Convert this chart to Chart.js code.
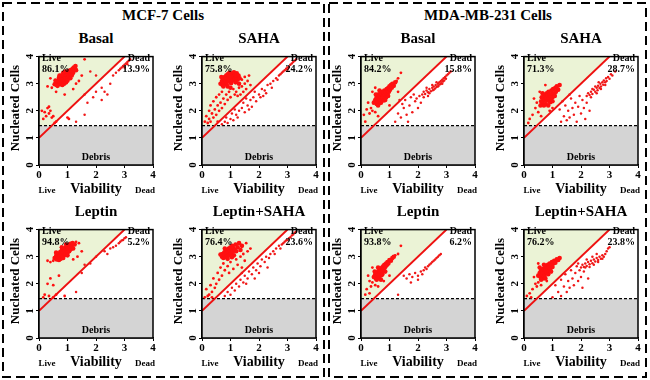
<!DOCTYPE html>
<html><head><meta charset="utf-8">
<script src="https://cdn.jsdelivr.net/npm/chart.js@4.4.0/dist/chart.umd.min.js"></script>
<style>
html,body{margin:0;padding:0;background:#fff;}
#wrap{position:relative;width:650px;height:380px;overflow:hidden;font-family:"Liberation Serif","Times New Roman",serif;font-weight:bold;color:#000;}
.t{position:absolute;white-space:nowrap;line-height:1;}
canvas{position:absolute;}
svg{position:absolute;left:0;top:0;}
</style></head>
<body><div id="wrap">
<svg width="650" height="380"><rect x="3" y="3" width="321" height="374" fill="none" stroke="#000" stroke-width="2" stroke-dasharray="9,5"/><rect x="329" y="3" width="317" height="374" fill="none" stroke="#000" stroke-width="2" stroke-dasharray="9,5"/></svg>
</div>
<script>
// ---- data ----
const groupTitles = ['MCF-7 Cells', 'MDA-MB-231 Cells'];
const panelTitles = ['Basal','SAHA','Basal','SAHA','Leptin','Leptin+SAHA','Leptin','Leptin+SAHA'];
const livePct = ['86.1%','75.8%','84.2%','71.3%','94.8%','76.4%','93.8%','76.2%'];
const deadPct = ['13.9%','24.2%','15.8%','28.7%','5.2%','23.6%','6.2%','23.8%'];
const axisTicks = [0,1,2,3,4];
const gateLine = [[0,1],[3,4]];
const debrisCut = 1.45;

// dense live-cell clusters
const mcfBasalCore = [[0.55,2.98],[0.6,3.05],[0.62,2.95],[0.65,3.1],[0.68,3.0],[0.7,3.15],[0.72,3.05],[0.74,2.98],[0.75,3.2],[0.78,3.1],[0.8,3.25],[0.8,3.02],[0.82,3.15],[0.85,3.3],[0.86,3.08],[0.88,3.2],[0.9,3.35],[0.9,3.12],[0.92,3.25],[0.95,3.4],[0.95,3.18],[0.98,3.3],[1.0,3.22],[1.0,3.42],[1.02,3.35],[1.05,3.28],[1.05,3.48],[1.08,3.4],[1.1,3.32],[1.12,3.5],[1.15,3.45],[1.18,3.55],[1.2,3.4],[1.22,3.6],[1.25,3.52],[0.7,3.22],[0.85,3.4],[0.95,3.05],[1.1,3.2],[0.65,2.92],[0.78,3.3],[1.0,3.12],[0.88,3.0],[1.15,3.3],[0.58,3.12],[0.72,3.3],[0.92,3.45],[1.28,3.65],[1.3,3.5],[0.82,2.95]];
const mcfBasalLive = [[0.3,2.9],[0.45,2.85],[0.6,2.7],[0.4,3.2],[1.3,3.0],[1.5,3.3],[1.4,3.1],[1.6,3.9],[1.2,2.8],[0.9,2.6],[0.15,1.7],[0.2,1.95],[0.3,2.1],[0.35,1.9],[0.25,1.8],[0.4,2.0],[0.1,2.0],[0.45,1.75],[0.5,1.8],[0.35,2.15],[0.55,1.55],[1.0,1.75],[1.05,1.7],[0.6,1.6]];
const mcfBasalDead = [[1.8,3.45],[2.0,3.3],[1.6,2.6],[1.7,2.3],[1.9,2.5],[2.0,2.7],[2.2,2.4],[2.3,2.7],[2.4,2.6],[2.5,3.0],[2.2,2.85],[1.3,1.6],[1.6,1.85],[2.6,3.3],[2.7,3.4],[2.8,3.5],[2.9,3.6],[2.95,3.65],[3.0,3.7],[3.05,3.75],[3.1,3.8],[3.15,3.85],[3.2,3.9],[2.85,3.55],[3.0,3.6],[3.1,3.72]];

const mcfSahaCore = [[0.65,3.0],[0.7,3.1],[0.72,2.95],[0.75,3.2],[0.78,3.05],[0.8,3.25],[0.82,3.12],[0.85,3.3],[0.86,2.98],[0.88,3.18],[0.9,3.35],[0.92,3.08],[0.95,3.25],[0.96,3.4],[0.98,3.15],[1.0,3.3],[1.02,3.02],[1.04,3.22],[1.06,3.38],[1.08,3.12],[1.1,3.28],[1.12,3.42],[1.14,3.18],[1.16,3.32],[1.18,3.05],[1.2,3.25],[1.22,3.38],[1.25,3.15],[1.28,3.3],[1.3,3.0],[0.9,2.9],[1.0,2.85],[0.75,2.9],[1.32,3.2],[0.68,3.25]];
const mcfSahaLive = [[1.1,2.8],[1.2,2.7],[1.3,2.85],[1.4,2.9],[1.45,2.7],[1.5,3.0],[1.55,2.8],[1.6,3.1],[1.35,2.6],[1.25,2.55],[1.15,2.6],[1.4,3.15],[1.5,3.25],[1.7,2.95],[1.65,3.3],
[0.2,1.55],[0.25,1.7],[0.3,1.6],[0.15,1.8],[0.35,1.9],[0.4,1.75],[0.45,2.05],[0.5,1.85],[0.55,2.2],[0.6,2.0],[0.65,2.3],[0.7,2.1],[0.75,2.45],[0.8,2.25],[0.85,2.6],[0.9,2.4],[0.5,2.5],[0.3,2.2],[0.4,2.35],[0.6,2.6],[0.95,2.7],[1.0,2.5],[0.55,1.6],[0.1,1.6],[0.7,2.7],[0.25,2.0]];
const mcfSahaDead = [[0.7,1.5],[0.8,1.6],[0.9,1.55],[0.85,1.75],[1.0,1.7],[1.1,1.65],[1.05,1.9],[1.2,1.85],[1.3,2.0],[1.25,1.75],[1.4,2.1],[1.5,1.95],[1.45,2.3],[1.6,2.2],[1.7,2.4],[1.65,2.05],[1.8,2.5],[1.9,2.35],[1.85,2.7],[2.0,2.6],[2.1,2.8],[2.05,2.5],[2.2,2.75],[2.3,2.95],[2.25,2.65],[2.4,3.0],[2.5,3.1],[2.45,2.85],[2.6,3.2],[2.7,3.3],[2.65,3.15],[2.8,3.4],[2.85,3.45],[2.9,3.5],[2.95,3.55],[3.0,3.6],[3.05,3.62],[3.1,3.7],[3.15,3.75],[3.2,3.8],[3.25,3.85],[3.3,3.9],[2.75,3.35],[3.0,3.52],[1.55,2.45],[1.15,2.05],[2.15,2.55],[1.75,2.15]];

const mdaBasalCore = [[0.5,2.4],[0.55,2.5],[0.58,2.35],[0.6,2.6],[0.62,2.45],[0.65,2.55],[0.66,2.3],[0.68,2.65],[0.7,2.5],[0.72,2.4],[0.74,2.6],[0.75,2.7],[0.76,2.48],[0.78,2.55],[0.8,2.65],[0.8,2.38],[0.82,2.75],[0.84,2.58],[0.86,2.68],[0.88,2.5],[0.9,2.8],[0.92,2.62],[0.94,2.72],[0.96,2.85],[0.98,2.7],[1.0,2.9],[1.02,2.78],[1.05,2.95],[1.08,2.85],[1.1,3.0],[1.15,2.92],[1.2,3.05],[0.55,2.25],[0.6,2.2],[0.7,2.3],[0.85,2.4],[0.45,2.3],[0.52,2.6],[0.65,2.75],[0.95,2.55]];
const mdaBasalLive = [[1.25,3.1],[1.3,3.2],[0.1,1.85],[0.15,1.6],[0.3,1.9],[0.35,2.1],[0.25,2.3],[0.4,2.0],[0.5,1.95],[0.6,1.8],[0.4,2.7],[0.5,2.85],[1.4,3.4],[1.3,2.7],[1.0,2.2],[0.2,2.05]];
const mdaBasalDead = [[1.2,1.6],[1.3,1.9],[1.4,1.75],[1.5,2.1],[1.6,1.85],[1.7,2.2],[1.8,1.95],[1.9,2.35],[2.0,2.1],[1.55,2.4],[1.75,2.5],[1.45,2.25],[1.85,2.6],[1.95,2.45],[2.05,2.55],[1.65,1.6],[2.1,2.3],[1.35,2.4],
[2.15,2.6],[2.2,2.7],[2.25,2.62],[2.3,2.75],[2.35,2.68],[2.4,2.8],[2.45,2.72],[2.5,2.85],[2.52,2.76],[2.55,2.9],[2.6,2.82],[2.62,2.95],[2.65,2.88],[2.7,3.0],[2.72,2.92],[2.75,3.05],[2.78,2.98],[2.8,3.1],[2.82,3.02],[2.85,3.15],[2.88,3.08],[2.9,3.2],[2.92,3.12],[2.95,3.25],[2.98,3.18],[3.0,3.3],[3.05,3.35],[3.1,3.4],[2.4,2.65],[2.55,2.78],[2.7,2.9],[2.85,3.0],[2.3,2.85],[2.5,2.95],[2.65,3.05],[2.35,2.55],[2.2,2.5],[3.15,3.45]];

const mdaSahaCore = [[0.6,2.35],[0.62,2.5],[0.65,2.3],[0.68,2.45],[0.7,2.6],[0.72,2.4],[0.75,2.55],[0.76,2.25],[0.78,2.48],[0.8,2.65],[0.82,2.38],[0.84,2.55],[0.86,2.7],[0.88,2.45],[0.9,2.6],[0.92,2.32],[0.94,2.52],[0.96,2.75],[0.98,2.62],[1.0,2.5],[1.02,2.8],[1.05,2.65],[1.08,2.55],[1.1,2.85],[1.12,2.7],[1.15,2.9],[1.2,2.78],[0.7,2.2],[0.85,2.2],[0.95,2.4],[0.65,2.65],[1.0,2.35],[0.58,2.2],[1.25,2.95]];
const mdaSahaLive = [[0.2,1.7],[0.3,1.85],[0.4,2.1],[0.5,1.95],[0.6,1.8],[0.45,2.3],[0.35,2.45],[0.55,2.7],[0.75,2.95],[0.9,2.0],[1.0,2.1],[0.15,1.55]];
const mdaSahaDead = [[1.3,1.6],[1.4,1.8],[1.5,1.65],[1.55,2.0],[1.6,1.75],[1.7,2.1],[1.75,1.85],[1.8,2.3],[1.85,1.6],[1.9,2.15],[2.0,1.9],[2.05,2.4],[2.1,2.1],[2.15,1.7],[2.2,2.3],[1.45,2.2],[1.65,2.45],[1.95,2.55],[1.35,2.35],[1.6,2.6],[2.3,2.0],[1.25,2.05],
[2.2,2.55],[2.25,2.65],[2.3,2.58],[2.35,2.7],[2.4,2.62],[2.45,2.78],[2.5,2.7],[2.55,2.85],[2.58,2.76],[2.6,2.92],[2.65,2.84],[2.68,3.0],[2.7,2.9],[2.75,3.05],[2.78,2.96],[2.8,3.12],[2.85,3.05],[2.88,3.2],[2.9,3.1],[2.95,3.25],[3.0,3.18],[3.05,3.35],[3.1,3.3],[3.2,3.45],[2.4,2.8],[2.55,2.65],[2.7,2.8],[2.85,2.95],[2.5,2.9],[2.62,3.05],[2.35,2.5]];

const mcfLeptinCore = [[0.55,2.95],[0.6,3.02],[0.62,2.9],[0.65,3.08],[0.68,2.97],[0.7,3.12],[0.72,3.02],[0.75,3.18],[0.76,2.92],[0.78,3.08],[0.8,3.22],[0.82,3.0],[0.84,3.15],[0.86,3.28],[0.88,3.05],[0.9,3.2],[0.92,3.32],[0.94,3.1],[0.96,3.25],[0.98,3.38],[1.0,3.15],[1.02,3.3],[1.04,3.42],[1.06,3.2],[1.08,3.35],[1.1,3.48],[1.12,3.28],[1.15,3.4],[1.18,3.5],[1.2,3.3],[0.7,2.88],[0.85,2.95],[1.0,3.05],[0.6,3.15],[0.8,3.35],[0.95,3.45],[1.25,3.45]];
const mcfLeptinLive = [[0.3,2.85],[0.4,2.8],[0.5,2.85],[1.3,3.55],[1.4,3.5],[1.5,3.2],[1.35,3.0],[1.2,2.9],[0.4,2.2],[0.3,2.0],[0.5,1.95],[0.2,1.6],[0.35,1.55],[0.6,1.6],[0.15,1.5],[0.5,1.5],[0.9,1.55],[0.7,2.3]];
const mcfLeptinDead = [[1.3,1.7],[1.5,2.4],[1.6,2.7],[2.0,3.0],[2.3,3.2],[2.5,3.3],[2.6,3.35],[2.7,3.4],[2.8,3.5],[2.85,3.55],[2.9,3.6],[2.95,3.62],[3.0,3.68],[3.05,3.72],[2.4,3.1],[1.8,2.75]];

const mcfComboCore = [[0.7,3.0],[0.72,3.1],[0.75,2.95],[0.78,3.15],[0.8,3.05],[0.82,3.2],[0.85,2.98],[0.86,3.12],[0.88,3.25],[0.9,3.02],[0.92,3.18],[0.94,3.3],[0.96,3.08],[0.98,3.22],[1.0,3.35],[1.02,3.12],[1.04,3.28],[1.06,3.4],[1.08,3.18],[1.1,3.32],[1.12,3.05],[1.15,3.25],[1.18,3.45],[1.2,3.2],[1.25,3.35],[1.3,3.5],[0.65,3.08],[0.9,2.92],[1.05,2.98],[1.35,3.25],[1.4,3.4],[0.8,3.3]];
const mcfComboLive = [[1.2,2.9],[1.35,3.0],[1.45,3.1],[1.5,2.85],[1.6,3.2],[1.25,2.7],[1.4,2.6],[1.1,2.55],[0.95,2.4],[0.9,2.65],[0.8,2.5],[0.7,2.3],[0.6,2.15],[0.5,2.0],[0.45,1.85],[0.35,1.7],[0.3,1.95],[0.2,1.55],[0.1,1.5],[0.55,2.4],[0.4,2.2],[0.65,2.6],[0.15,1.8],[0.75,2.75],[0.25,1.6],[1.0,2.8],[1.55,3.5],[1.7,3.3],[0.35,1.5]];
const mcfComboDead = [[0.8,1.55],[0.9,1.7],[1.0,1.6],[1.05,1.85],[1.15,1.75],[1.2,2.0],[1.3,1.9],[1.35,2.15],[1.45,2.05],[1.5,2.3],[1.6,2.2],[1.65,2.45],[1.75,2.35],[1.8,2.6],[1.9,2.5],[1.95,2.75],[2.05,2.65],[2.1,2.9],[2.2,2.8],[2.25,3.0],[2.35,2.95],[2.4,3.1],[2.5,3.2],[2.55,3.1],[2.6,3.3],[2.7,3.4],[2.75,3.3],[2.8,3.45],[2.85,3.5],[2.9,3.55],[2.95,3.6],[3.0,3.62],[3.05,3.68],[3.1,3.72],[3.15,3.78],[3.2,3.82],[3.25,3.88],[3.3,3.92],[1.55,2.0],[2.0,2.4],[2.3,2.6],[1.4,2.4],[1.85,2.2]];

const mdaLeptinCore = [[0.45,2.25],[0.5,2.35],[0.52,2.2],[0.55,2.4],[0.58,2.3],[0.6,2.45],[0.62,2.25],[0.64,2.5],[0.66,2.38],[0.68,2.55],[0.7,2.42],[0.72,2.32],[0.74,2.6],[0.76,2.48],[0.78,2.65],[0.8,2.55],[0.82,2.7],[0.85,2.62],[0.88,2.75],[0.9,2.68],[0.93,2.8],[0.96,2.75],[1.0,2.88],[1.05,2.85],[1.1,2.95],[1.15,3.0],[0.55,2.15],[0.65,2.2],[0.75,2.35],[0.48,2.45],[0.6,2.6],[0.7,2.15],[0.85,2.45]];
const mdaLeptinLive = [[1.2,3.05],[1.3,3.1],[0.2,1.8],[0.3,2.1],[0.35,1.9],[0.4,2.05],[0.5,1.95],[0.6,1.9],[0.25,2.3],[0.15,1.6],[0.8,2.1],[1.0,2.3],[0.4,2.6],[1.4,3.4],[0.3,1.65]];
const mdaLeptinDead = [[1.3,1.6],[1.5,2.3],[1.6,2.2],[1.7,2.35],[1.8,2.25],[1.9,2.4],[2.0,2.3],[2.1,2.45],[2.2,2.5],[2.25,2.6],[2.3,2.55],[2.35,2.65],[2.4,2.7],[2.45,2.75],[2.5,2.8],[2.55,2.85],[2.6,2.9],[2.65,2.95],[2.7,3.0],[2.75,3.05],[2.8,3.1],[1.75,2.05],[2.0,2.15],[2.15,2.35]];

const mdaComboCore = [[0.5,2.3],[0.55,2.4],[0.58,2.25],[0.6,2.5],[0.62,2.35],[0.65,2.45],[0.66,2.2],[0.68,2.55],[0.7,2.4],[0.72,2.3],[0.74,2.6],[0.76,2.5],[0.78,2.65],[0.8,2.42],[0.82,2.55],[0.84,2.7],[0.86,2.48],[0.88,2.6],[0.9,2.75],[0.92,2.55],[0.95,2.68],[0.98,2.8],[1.0,2.62],[1.03,2.75],[1.06,2.85],[1.1,2.78],[1.15,2.9],[1.2,2.88],[0.6,2.15],[0.75,2.2],[0.85,2.35],[0.55,2.6],[0.7,2.7],[0.95,2.45],[1.25,2.95]];
const mdaComboLive = [[0.1,1.55],[0.2,1.65],[0.3,1.8],[0.4,2.0],[0.5,2.05],[0.45,1.9],[0.6,1.95],[0.8,2.1],[0.35,2.25],[0.5,2.75],[0.25,1.5]];
const mdaComboDead = [[1.0,1.5],[1.2,1.7],[1.3,1.55],[1.4,1.9],[1.5,1.7],[1.55,2.1],[1.6,1.85],[1.7,2.2],[1.75,1.95],[1.8,2.4],[1.9,2.1],[1.95,2.5],[2.0,2.25],[2.05,1.85],[2.1,2.45],[2.15,2.6],[1.45,2.35],[1.65,2.5],[1.85,2.65],[1.3,2.15],[2.25,2.2],[1.1,1.95],
[2.0,2.6],[2.05,2.7],[2.1,2.62],[2.15,2.75],[2.2,2.66],[2.25,2.8],[2.3,2.72],[2.35,2.85],[2.4,2.76],[2.45,2.9],[2.5,2.82],[2.55,2.95],[2.6,2.88],[2.65,3.0],[2.7,2.92],[2.75,3.05],[2.8,3.0],[2.85,3.1],[2.9,3.2],[2.95,3.3],[3.0,3.35],[2.3,2.62],[2.45,2.7],[2.6,2.8],[2.75,2.92],[2.2,2.9],[2.4,3.0],[2.55,3.1],[1.9,2.75]];

const coreSets = [mcfBasalCore, mcfSahaCore, mdaBasalCore, mdaSahaCore, mcfLeptinCore, mcfComboCore, mdaLeptinCore, mdaComboCore];
const liveSets = [mcfBasalLive, mcfSahaLive, mdaBasalLive, mdaSahaLive, mcfLeptinLive, mcfComboLive, mdaLeptinLive, mdaComboLive];
const deadSets = [mcfBasalDead, mcfSahaDead, mdaBasalDead, mdaSahaDead, mcfLeptinDead, mcfComboDead, mdaLeptinDead, mdaComboDead];

// ---- layout ----
const colLeft = [39, 202, 361, 524];
const rowTop = [51, 224];
const S = 114;
const FONT = '"Liberation Serif","Times New Roman",serif';
const wrap = document.getElementById('wrap');

function addText(txt, x, y, size, align, rot) {
  const d = document.createElement('div');
  d.className = 't';
  d.textContent = txt;
  d.style.fontSize = size + 'px';
  d.style.left = x + 'px';
  d.style.top = y + 'px';
  let tr = '';
  if (align === 'center') tr = 'translate(-50%,-50%)';
  else if (align === 'right') tr = 'translate(-100%,-50%)';
  else tr = 'translate(0,-50%)';
  if (rot) tr += ' rotate(' + rot + 'deg)';
  d.style.transform = tr;
  wrap.appendChild(d);
}

addText(groupTitles[0], 163, 15, 15, 'center');
addText(groupTitles[1], 488, 15, 15, 'center');

const framePlugin = {
  id: 'frame',
  afterDraw(chart) {
    const {ctx, chartArea: a, scales: {y}} = chart;
    ctx.save();
    ctx.strokeStyle = '#000';
    ctx.lineWidth = 1.5;
    ctx.strokeRect(a.left, a.top, a.right - a.left, a.bottom - a.top);
    ctx.font = 'bold 11px ' + FONT;
    ctx.fillStyle = '#000';
    ctx.textAlign = 'center';
    ctx.textBaseline = 'middle';
    y.ticks.forEach(t => {
      const py = y.getPixelForValue(t.value);
      ctx.save();
      ctx.translate(a.left - 9, py);
      ctx.rotate(-Math.PI / 2);
      ctx.fillText(String(t.value), 0, 0);
      ctx.restore();
    });
    ctx.restore();
  }
};

const toXY = arr => arr.map(p => ({x: p[0], y: p[1]}));

for (let i = 0; i < 8; i++) {
  const L = colLeft[i % 4], T = rowTop[Math.floor(i / 4)];
  const cv = document.createElement('canvas');
  cv.width = 140; cv.height = 136;
  cv.style.left = (L - 20) + 'px';
  cv.style.top = (T - 4) + 'px';
  cv.style.width = '140px'; cv.style.height = '136px';
  wrap.appendChild(cv);

  new Chart(cv, {
    type: 'line',
    data: {
      datasets: [
        {type: 'scatter', data: toXY(coreSets[i]), pointRadius: 2.3, pointBackgroundColor: '#ff1010', pointBorderWidth: 0, showLine: false, order: 0},
        {type: 'scatter', data: toXY(liveSets[i]), pointRadius: 1.4, pointBackgroundColor: '#ff1010', pointBorderWidth: 0, showLine: false, order: 0},
        {type: 'scatter', data: toXY(deadSets[i]), pointRadius: 1.25, pointBackgroundColor: '#f01818', pointBorderWidth: 0, showLine: false, order: 1},
        {data: toXY(gateLine), borderColor: '#ee1111', borderWidth: 2, pointRadius: 0, fill: false, order: 2},
        {data: [{x: 0, y: debrisCut}, {x: 4, y: debrisCut}], borderColor: '#000', borderWidth: 1.2, borderDash: [3, 2], backgroundColor: '#d4d4d4', pointRadius: 0, fill: 'start', order: 3},
        {data: toXY(gateLine), borderWidth: 0, borderColor: 'rgba(0,0,0,0)', backgroundColor: '#ebf3d6', pointRadius: 0, fill: 'end', order: 4}
      ]
    },
    options: {
      responsive: false,
      animation: false,
      devicePixelRatio: 1,
      layout: {padding: {left: 0, top: 4, right: 6, bottom: 0}},
      plugins: {legend: {display: false}, tooltip: {enabled: false}},
      scales: {
        x: {
          type: 'linear', min: 0, max: 4,
          afterBuildTicks: s => { s.ticks = axisTicks.map(v => ({value: v})); },
          afterFit: s => { s.height = 18; },
          ticks: {font: {family: FONT, size: 11, weight: 'bold'}, color: '#000', padding: 1, maxRotation: 0},
          grid: {display: true, drawOnChartArea: false, drawTicks: true, tickLength: 3, color: '#000'},
          border: {display: true, color: '#000', width: 1.5}
        },
        y: {
          type: 'linear', min: 0, max: 4,
          afterBuildTicks: s => { s.ticks = axisTicks.map(v => ({value: v})); },
          afterFit: s => { s.width = 20; },
          ticks: {font: {family: FONT, size: 11, weight: 'bold'}, color: 'rgba(0,0,0,0)'},
          grid: {display: true, drawOnChartArea: false, drawTicks: true, tickLength: 3, color: '#000'},
          border: {display: true, color: '#000', width: 1.5}
        }
      }
    },
    plugins: [framePlugin]
  });

  // texts
  addText(panelTitles[i], L + S / 2, T - 13, 15, 'center');
  addText('Nucleated Cells', L - 25, T + S / 2, 13, 'center', -90);
  addText('Live', L + 3, T + 7, 10, 'left');
  addText(livePct[i], L + 3, T + 18, 10, 'left');
  addText('Dead', L + S - 3, T + 7, 10, 'right');
  addText(deadPct[i], L + S - 3, T + 18, 10, 'right');
  addText('Debris', L + S / 2, T + S - 8, 10, 'center');
  addText('Live', L + 8, T + S + 25, 9, 'center');
  addText('Viability', L + S / 2, T + S + 24, 14, 'center');
  addText('Dead', L + S - 8, T + S + 25, 9, 'center');
}
</script>
</body></html>
